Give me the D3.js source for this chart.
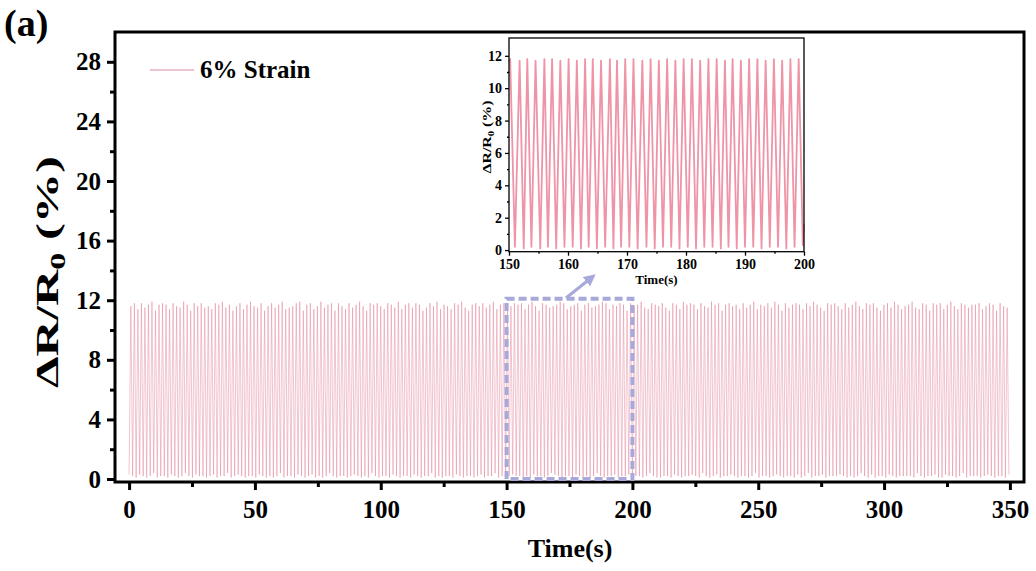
<!DOCTYPE html>
<html><head><meta charset="utf-8">
<script src="https://cdn.jsdelivr.net/npm/d3@7"></script>
<style>body{margin:0;background:#fff}svg{display:block}text{font-family:"Liberation Serif","Times New Roman",serif;font-weight:bold}</style>
</head><body><svg id="c" width="1036" height="571"></svg>
<script>
// ---------- data ----------
const seriesName = "6% Strain";
const xTicks = [0,50,100,150,200,250,300,350];
const yTicks = [0,4,8,12,16,20,24,28];
const insetXTicks = [150,160,170,180,190,200];
const insetYTicks = [0,2,4,6,8,10,12];
// main trace: peak and valley values of each loading cycle (0 s .. 349.6 s, 250 cycles)
const cycleSpan = [0.0, 349.6];
const mainPeaks = [
11.6,11.8,11.4,11.8,11.5,11.7,11.9,11.3,11.7,11.8,
11.7,11.4,11.8,11.6,11.5,11.9,11.7,11.3,11.8,11.6,
11.8,11.5,11.6,11.4,11.8,11.7,11.9,11.5,11.7,11.3,
11.6,11.8,11.4,11.7,11.9,11.6,11.5,11.8,11.3,11.6,
11.8,11.5,11.7,11.9,11.4,11.5,11.6,11.8,11.9,11.3,
11.7,11.8,11.4,11.6,11.9,11.5,11.7,11.8,11.3,11.8,
11.6,11.4,11.8,11.5,11.7,11.9,11.6,11.3,11.8,11.7,
11.8,11.6,11.4,11.8,11.7,11.5,11.9,11.4,11.7,11.8,
11.5,11.8,11.7,11.3,11.5,11.8,11.6,11.9,11.4,11.7,
11.6,11.4,11.8,11.7,11.9,11.5,11.3,11.7,11.8,11.6,
11.8,11.5,11.7,11.9,11.4,11.7,11.8,11.5,11.6,11.8,
11.7,11.8,11.4,11.7,11.9,11.6,11.3,11.8,11.7,11.5,
11.6,11.7,11.9,11.8,11.4,11.6,11.7,11.8,11.3,11.7,
11.8,11.5,11.6,11.7,11.9,11.8,11.4,11.7,11.6,11.8,
11.7,11.3,11.8,11.6,11.7,11.9,11.5,11.4,11.8,11.7,
11.6,11.8,11.5,11.3,11.8,11.7,11.4,11.9,11.7,11.8,
11.7,11.4,11.8,11.6,11.5,11.9,11.7,11.8,11.3,11.7,
11.8,11.6,11.7,11.4,11.8,11.5,11.7,11.9,11.4,11.7,
11.6,11.8,11.5,11.9,11.7,11.3,11.8,11.5,11.7,11.8,
11.7,11.4,11.8,11.6,11.9,11.7,11.5,11.3,11.8,11.7,
11.8,11.6,11.4,11.8,11.5,11.7,11.9,11.6,11.4,11.8,
11.7,11.8,11.5,11.3,11.7,11.8,11.5,11.9,11.7,11.4,
11.6,11.7,11.9,11.5,11.4,11.8,11.7,11.3,11.8,11.7,
11.8,11.4,11.7,11.9,11.6,11.4,11.8,11.7,11.5,11.7,
11.7,11.8,11.4,11.6,11.8,11.7,11.3,11.8,11.6,11.5];
const mainValleys = [0.3,
0.2,0.1,0.3,0.2,0.1,0.2,0.4,0.1,0.2,0.2,
0.1,0.3,0.2,0.1,0.2,0.4,0.2,0.1,0.3,0.2,
0.2,0.1,0.2,0.3,0.1,0.2,0.2,0.4,0.1,0.2,
0.3,0.2,0.1,0.2,0.2,0.1,0.3,0.2,0.1,0.2,
0.1,0.2,0.4,0.1,0.2,0.2,0.1,0.3,0.2,0.1,
0.2,0.3,0.1,0.2,0.1,0.2,0.4,0.2,0.1,0.2,
0.2,0.1,0.2,0.3,0.2,0.1,0.2,0.1,0.4,0.2,
0.1,0.2,0.2,0.1,0.3,0.2,0.1,0.2,0.2,0.1,
0.3,0.2,0.1,0.2,0.2,0.4,0.1,0.2,0.1,0.2,
0.2,0.1,0.3,0.2,0.1,0.2,0.2,0.1,0.2,0.3,
0.1,0.2,0.2,0.4,0.1,0.2,0.1,0.2,0.3,0.2,
0.2,0.1,0.2,0.1,0.3,0.2,0.2,0.1,0.2,0.4,
0.3,0.2,0.1,0.2,0.2,0.1,0.3,0.2,0.1,0.2,
0.1,0.2,0.4,0.2,0.1,0.2,0.2,0.3,0.1,0.2,
0.2,0.3,0.1,0.2,0.2,0.1,0.2,0.4,0.2,0.1,
0.1,0.2,0.2,0.1,0.3,0.2,0.1,0.2,0.2,0.3,
0.2,0.1,0.4,0.2,0.1,0.2,0.3,0.1,0.2,0.2,
0.3,0.2,0.1,0.2,0.2,0.1,0.2,0.4,0.1,0.2,
0.2,0.1,0.2,0.3,0.2,0.1,0.2,0.2,0.1,0.3,
0.1,0.2,0.4,0.1,0.2,0.2,0.3,0.1,0.2,0.2,
0.2,0.3,0.2,0.1,0.2,0.1,0.2,0.4,0.2,0.1,
0.3,0.1,0.2,0.2,0.1,0.3,0.2,0.1,0.2,0.2,
0.2,0.2,0.1,0.4,0.2,0.1,0.2,0.2,0.3,0.1,
0.1,0.3,0.2,0.2,0.1,0.2,0.4,0.1,0.2,0.2,
0.2,0.1,0.2,0.3,0.2,0.1,0.2,0.2,0.1,0.3];
// inset (150-200 s): turning points
const insetTimes = [150.0,150.2,151.0,151.8,152.5,153.1,153.8,154.5,155.3,156.0,156.6,157.3,158.0,158.7,159.4,160.1,160.8,161.5,162.2,162.9,163.5,164.2,164.9,165.6,166.3,167.1,167.7,168.3,169.0,169.7,170.4,171.1,171.8,172.6,173.3,174.0,174.7,175.4,176.1,176.8,177.5,178.2,178.9,179.6,180.3,181.0,181.7,182.4,183.1,183.8,184.5,185.2,185.9,186.6,187.2,187.9,188.6,189.3,190.0,190.7,191.4,192.1,192.8,193.5,194.2,194.9,195.6,196.3,197.0,197.7,198.4,199.1,199.8,200.0];
const insetValues = [11.6,11.8,0.2,11.7,0.1,11.8,0.2,11.7,0.1,11.8,0.2,11.8,0.1,11.7,0.2,11.8,0.2,11.7,0.1,11.8,0.2,11.8,0.1,11.7,0.2,11.8,0.1,11.7,0.2,11.8,0.2,11.8,0.1,11.7,0.2,11.8,0.1,11.7,0.2,11.8,0.2,11.7,0.1,11.8,0.2,11.8,0.1,11.7,0.2,11.8,0.2,11.8,0.1,11.7,0.2,11.8,0.1,11.7,0.2,11.8,0.2,11.8,0.1,11.7,0.2,11.8,0.2,11.7,0.1,11.8,0.2,11.8,0.3,1.6];
const zoomWindow = {x0:150, x1:200, y0:0, y1:12.1};

// ---------- main chart ----------
const svg = d3.select("#c");
const L=115,R=1024,T=32,B=482;
const x = d3.scaleLinear().domain([-5.6,355.6]).range([L,R]);
const y = d3.scaleLinear().domain([-0.2,30.0]).range([B,T]);
const cyc = d3.scaleLinear().domain([0, mainPeaks.length]).range(cycleSpan);
const pts=[];
mainPeaks.forEach((p,i)=>{ pts.push([cyc(i), mainValleys[i]]); pts.push([cyc(i+0.5), p]); });
pts.push([cyc(mainPeaks.length), mainValleys[mainPeaks.length]]);
const line = d3.line().x(d=>x(d[0])).y(d=>y(d[1]));
svg.append("path").attr("d", line(pts)).attr("fill","none")
  .attr("stroke","#e07a92").attr("stroke-width",0.6).attr("stroke-opacity",0.75);

// axes
const gx = svg.append("g").attr("transform",`translate(0,${B})`)
  .call(d3.axisBottom(x).tickValues(xTicks).tickSize(8).tickPadding(10).tickFormat(d3.format("d")));
const gxm = svg.append("g").attr("transform",`translate(0,${B})`)
  .call(d3.axisBottom(x).tickValues(d3.range(25,350,50)).tickSize(5).tickFormat(""));
const gy = svg.append("g").attr("transform",`translate(${L},0)`)
  .call(d3.axisLeft(y).tickValues(yTicks).tickSize(8).tickPadding(6).tickFormat(d3.format("d")));
const gym = svg.append("g").attr("transform",`translate(${L},0)`)
  .call(d3.axisLeft(y).tickValues(d3.range(2,30,4)).tickSize(5).tickFormat(""));
[gx,gxm,gy,gym].forEach(g=>{ g.attr("font-family",null); g.select(".domain").remove(); g.selectAll("line").attr("stroke","#000").attr("stroke-width",3); });
[gx,gy].forEach(g=>g.selectAll("text").attr("font-size",25).attr("fill","#000"));
svg.append("rect").attr("x",L).attr("y",T).attr("width",R-L).attr("height",B-T)
  .attr("fill","none").attr("stroke","#000").attr("stroke-width",3);

// titles
svg.append("text").attr("x",570).attr("y",557).attr("text-anchor","middle").attr("font-size",26).text("Time(s)");
const yt = svg.append("text").attr("transform","translate(58,272) rotate(-90)").attr("text-anchor","middle")
  .attr("font-size",31).attr("textLength",232).attr("lengthAdjust","spacingAndGlyphs");
yt.append("tspan").text("ΔR/R");
yt.append("tspan").attr("font-size",21).attr("dy",7).text("0");
yt.append("tspan").attr("dy",-7).text(" (%)");
svg.append("text").attr("x",4).attr("y",36).attr("font-size",38).text("(a)");

// legend
svg.append("line").attr("x1",150).attr("x2",194).attr("y1",70).attr("y2",70).attr("stroke","#d98a9c").attr("stroke-width",1);
svg.append("text").attr("x",200).attr("y",78).attr("font-size",25).text(seriesName);

// zoom box + arrow
const lav="#a8a8da";
svg.append("rect").attr("x",x(zoomWindow.x0)).attr("y",y(zoomWindow.y1))
  .attr("width",x(zoomWindow.x1)-x(zoomWindow.x0)).attr("height",y(zoomWindow.y0)-y(zoomWindow.y1))
  .attr("fill","none").attr("stroke",lav).attr("stroke-width",4).attr("stroke-dasharray","8,4");
svg.append("defs").append("marker").attr("id","ah").attr("viewBox","0 0 10 10").attr("refX",5).attr("refY",5)
  .attr("markerWidth",4).attr("markerHeight",4).attr("orient","auto")
  .append("path").attr("d","M0,0 L10,5 L0,10 z").attr("fill",lav);
svg.append("line").attr("x1",566).attr("y1",298).attr("x2",591).attr("y2",278)
  .attr("stroke",lav).attr("stroke-width",3).attr("marker-end","url(#ah)");

// ---------- inset ----------
const iL=509,iR=804,iT=38,iB=251.7;
const ix = d3.scaleLinear().domain([150,200]).range([iL,iR]);
const iy = d3.scaleLinear().domain([-0.1,13.1]).range([iB,iT]);
svg.append("rect").attr("x",iL).attr("y",iT).attr("width",iR-iL).attr("height",iB-iT).attr("fill","#fff");
const ipts = insetTimes.map((t,i)=>[t,insetValues[i]]);
svg.append("path").attr("d", d3.line().x(d=>ix(d[0])).y(d=>iy(d[1]))(ipts))
  .attr("fill","none").attr("stroke","#ee94a6").attr("stroke-width",1.8).attr("stroke-linejoin","round");
const igx = svg.append("g").attr("transform",`translate(0,${iB})`)
  .call(d3.axisBottom(ix).tickValues(insetXTicks).tickSize(4).tickPadding(3).tickFormat(d3.format("d")));
const igxm = svg.append("g").attr("transform",`translate(0,${iB})`)
  .call(d3.axisBottom(ix).tickValues(d3.range(155,200,10)).tickSize(2).tickFormat(""));
const igy = svg.append("g").attr("transform",`translate(${iL},0)`)
  .call(d3.axisLeft(iy).tickValues(insetYTicks).tickSize(4).tickPadding(3).tickFormat(d3.format("d")));
const igym = svg.append("g").attr("transform",`translate(${iL},0)`)
  .call(d3.axisLeft(iy).tickValues(d3.range(1,13,2)).tickSize(2).tickFormat(""));
[igx,igxm,igy,igym].forEach(g=>{ g.attr("font-family",null); g.select(".domain").remove(); g.selectAll("line").attr("stroke","#000").attr("stroke-width",1.3); });
[igx,igy].forEach(g=>g.selectAll("text").attr("font-size",14).attr("fill","#000"));
svg.append("rect").attr("x",iL).attr("y",iT).attr("width",iR-iL).attr("height",iB-iT)
  .attr("fill","none").attr("stroke","#000").attr("stroke-width",1.3);
svg.append("text").attr("x",(iL+iR)/2).attr("y",284).attr("text-anchor","middle").attr("font-size",13).text("Time(s)");
const iyt = svg.append("text").attr("transform","translate(491,137) rotate(-90)").attr("text-anchor","middle")
  .attr("font-size",12).attr("textLength",73).attr("lengthAdjust","spacingAndGlyphs");
iyt.append("tspan").text("ΔR/R");
iyt.append("tspan").attr("font-size",8).attr("dy",3).text("0");
iyt.append("tspan").attr("dy",-3).text(" (%)");
</script></body></html>
